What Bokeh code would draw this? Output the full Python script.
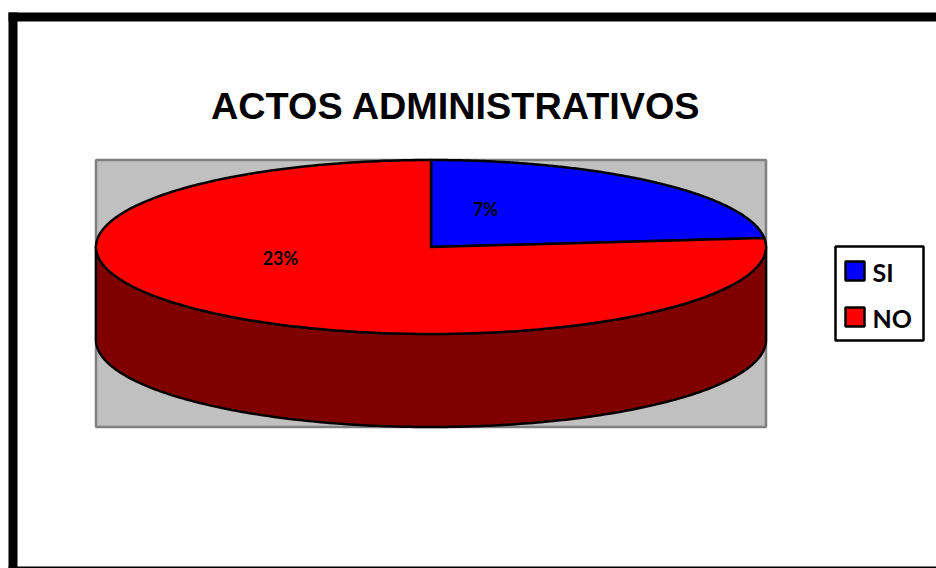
import numpy as np
from bokeh.core.properties import value
from bokeh.embed import file_html
from bokeh.models import Range1d
from bokeh.plotting import figure
from bokeh.resources import INLINE

# Chart content
title = "ACTOS ADMINISTRATIVOS"
categories = ["SI", "NO"]
values = [7, 23]
slice_labels = ["7%", "23%"]
slice_colors = ["#0000FF", "#FF0000"]
side_color = "#800000"

W, H = 936, 568
CX, CY, RX, RY, DEPTH = 430.5, 246.5, 335, 87, 93

p = figure(width=W, height=H, output_backend="svg", toolbar_location=None,
           x_range=Range1d(0, W), y_range=Range1d(H, 0),
           min_border=0, outline_line_color=None, background_fill_color="white")
p.axis.visible = False
p.grid.visible = False


def rim(a0, a1, dy=0, n=240):
    # Points on the tilted disc; angles run clockwise from twelve o'clock
    t = np.linspace(a0, a1, n)
    return CX + RX * np.sin(t), CY + dy - RY * np.cos(t)


# Outer frame: left, top and bottom bars
p.quad(left=[8, 8, 8], right=[17, W, W], top=[12, 12, 566], bottom=[H, 21, H],
       fill_color="black", line_color=None)

# Plot area
p.quad(left=[95.5], right=[765.5], top=[159.5], bottom=[426.5],
       fill_color="#C0C0C0", line_color="#808080", line_width=2.5)

# Cylinder wall under the front half of the disc
fx, fy = rim(np.pi / 2, 3 * np.pi / 2)
bx, by = rim(3 * np.pi / 2, np.pi / 2, dy=DEPTH)
p.patch(np.r_[fx, bx], np.r_[fy, by], fill_color=side_color,
        line_color="black", line_width=2.5, line_join="round")

# Disc slices, with sweep taken from the values
total = sum(values)
start = 0.0
for val, col in zip(values, slice_colors):
    sweep = 2 * np.pi * val / total
    x, y = rim(start, start + sweep)
    p.patch(np.r_[CX, x], np.r_[CY, y], fill_color=col,
            line_color="black", line_width=2.5, line_join="round")
    start += sweep

# Title and slice labels
p.text([455.5], [105], text=[title], text_font=value("Liberation Sans"),
       text_font_style="bold", text_font_size="37.8px",
       text_align="center", text_baseline="middle", text_color="black")
p.text([485, 280], [208, 257], text=slice_labels, text_font=value("Lato"),
       text_font_style="bold", text_font_size="18px",
       text_align="center", text_baseline="middle", text_color="black")

# Legend
p.quad(left=[835], right=[923], top=[246], bottom=[340],
       fill_color="white", line_color="black", line_width=2.5)
p.quad(left=[845, 845], right=[864, 864], top=[261, 307], bottom=[280, 326],
       fill_color=slice_colors, line_color="black", line_width=2.5)
p.text([872, 872], [271, 317], text=categories, text_font=value("Lato"),
       text_font_style="bold", text_font_size="25px",
       text_align="left", text_baseline="middle", text_color="black")

open("out.html", "w").write(file_html(p, INLINE))
